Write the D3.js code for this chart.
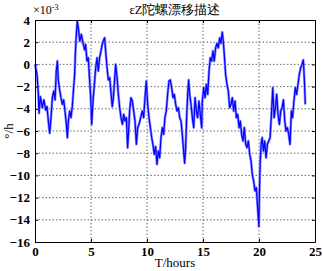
<!DOCTYPE html>
<html>
<head>
<meta charset="utf-8">
<script src="https://cdn.jsdelivr.net/npm/d3@7"></script>
<style>
  body { margin: 0; background: #fff; }
  text { font-family: "Liberation Serif", "Times New Roman", serif; }
</style>
</head>
<body>
<div id="chart"></div>
<script>
// gyro drift, values in units of 1e-3 deg/h
const hours = [
  0, 0.18, 0.3, 0.36, 0.48, 0.65, 0.8, 0.95, 1.07, 1.19, 1.31, 1.43, 1.55, 1.67, 1.79, 1.9,
  2.0, 2.08, 2.2, 2.32, 2.44, 2.56, 2.68, 2.8, 2.89, 2.98, 3.1, 3.21, 3.33, 3.45, 3.54, 3.6,
  3.69, 3.78, 3.9, 4.0, 4.14, 4.29, 4.43, 4.52, 4.64, 4.76, 4.88, 4.97, 5.06, 5.18, 5.3, 5.42,
  5.54, 5.65, 5.77, 5.89, 6.0, 6.13, 6.22, 6.31, 6.43, 6.55, 6.67, 6.79, 6.9, 7.0, 7.1, 7.2,
  7.32, 7.44, 7.56, 7.68, 7.8, 7.92, 8.04, 8.16, 8.27, 8.36, 8.45, 8.57, 8.69, 8.81, 8.93, 9.05,
  9.17, 9.29, 9.43, 9.58, 9.7, 9.82, 9.94, 10.06, 10.18, 10.3, 10.42, 10.53, 10.65, 10.77, 10.89, 11.01,
  11.13, 11.25, 11.37, 11.49, 11.6, 11.72, 11.84, 11.96, 12.08, 12.2, 12.32, 12.44, 12.56, 12.68, 12.8, 12.92,
  13.04, 13.15, 13.27, 13.36, 13.45, 13.54, 13.63, 13.72, 13.81, 13.93, 14.05, 14.17, 14.29, 14.41, 14.52, 14.64,
  14.76, 14.88, 14.94, 15.06, 15.18, 15.3, 15.42, 15.54, 15.65, 15.77, 15.89, 16.0, 16.13, 16.25, 16.37, 16.49,
  16.6, 16.72, 16.81, 16.9, 17.02, 17.14, 17.26, 17.38, 17.5, 17.62, 17.74, 17.86, 17.98, 18.1, 18.22, 18.33,
  18.45, 18.57, 18.69, 18.81, 18.93, 19.05, 19.17, 19.29, 19.4, 19.52, 19.64, 19.76, 19.82, 19.9, 19.99, 20.04,
  20.1, 20.19, 20.28, 20.4, 20.51, 20.63, 20.75, 20.87, 20.99, 21.11, 21.23, 21.35, 21.47, 21.58, 21.7, 21.82,
  21.94, 22.06, 22.18, 22.3, 22.41, 22.53, 22.65, 22.77, 22.89, 23.0, 23.12, 23.24, 23.36, 23.48, 23.6, 23.72,
  23.84, 23.96, 24.07, 24.13
];
const drift = [
  0, -0.9, -2.7, -4.4, -2.9, -3.9, -3.2, -4.1, -3.8, -5.1, -6.2, -4.8, -3.0, -2.4, -3.2, -0.6,
  0.3, -1.4, -2.3, -3.0, -3.6, -3.2, -4.2, -5.4, -6.6, -5.1, -4.2, -4.8, -3.8, -2.1, -0.9, 0.9,
  2.7, 3.9, 3.0, 2.1, 2.7, 1.9, 1.3, 1.8, 0.3, 0.6, -1.5, -2.9, -5.4, -3.3, -1.8, -0.3,
  0.6, -0.6, 0.6, 1.2, 1.8, 2.2, 2.4, 1.2, -0.3, -1.4, -1.2, -2.6, -3.8, -3.0, -1.5, 0.0,
  -1.1, -2.7, -3.9, -4.8, -5.4, -4.5, -5.1, -4.8, -7.5, -6.0, -4.2, -3.0, -3.3, -4.2, -5.1, -7.2,
  -5.7, -5.4, -4.8, -4.2, -4.8, -3.0, -1.5, -3.6, -4.8, -5.7, -6.6, -7.2, -8.1, -7.4, -9.0, -7.8,
  -8.4, -6.6, -5.7, -6.3, -4.8, -4.2, -2.7, -1.5, -1.4, -2.1, -3.0, -2.7, -3.6, -4.2, -3.9, -4.8,
  -5.1, -6.3, -7.8, -8.9, -7.5, -4.8, -2.7, -1.4, -2.7, -3.6, -4.8, -5.7, -3.0, -4.2, -4.8, -3.3,
  -4.5, -5.7, -3.3, -2.1, -3.0, -1.8, -2.7, -0.6, 0.6, 0.3, 1.2, 0.3, 1.5, 1.9, 1.5, 2.4,
  1.9, 2.9, 2.1, 0.9, -0.9, -1.8, -2.4, -3.9, -3.6, -3.0, -4.2, -3.3, -4.8, -4.5, -5.7, -5.1,
  -6.3, -6.9, -5.7, -7.2, -7.5, -6.9, -8.1, -8.7, -9.9, -10.5, -11.4, -11.1, -12.0, -13.2, -14.6, -11.4,
  -9.0, -7.2, -6.6, -7.8, -6.9, -8.4, -7.2, -6.9, -6.6, -4.5, -2.1, -4.8, -3.9, -2.7, -4.5, -5.4,
  -4.2, -3.9, -3.2, -5.1, -6.0, -5.7, -6.3, -7.2, -4.2, -4.8, -3.3, -2.1, -2.7, -1.8, -0.9, -0.3,
  0.0, 0.4, -1.8, -3.6
];
const xTicks = [0, 5, 10, 15, 20, 25];
const yTicks = [4, 2, 0, -2, -4, -6, -8, -10, -12, -14, -16];

const margin = { top: 20, right: 8, bottom: 29, left: 35 };
const width = 323 - margin.left - margin.right;
const height = 271 - margin.top - margin.bottom;

const svgRoot = d3.select('#chart')
  .append('svg')
  .attr('width', 323)
  .attr('height', 271);

const svg = svgRoot.append('g')
  .attr('transform', `translate(${margin.left},${margin.top})`);

const x = d3.scaleLinear().domain([0, 25]).range([0, width]);
const y = d3.scaleLinear().domain([-16, 4]).range([height, 0]);

// grid
svg.append('g')
  .selectAll('line')
  .data(xTicks.slice(1, -1))
  .join('line')
  .attr('x1', d => x(d)).attr('x2', d => x(d))
  .attr('y1', 0).attr('y2', height)
  .attr('stroke', '#444')
  .attr('stroke-width', 0.8)
  .attr('stroke-dasharray', '1.5,2');

svg.append('g')
  .selectAll('line')
  .data(yTicks.slice(1, -1))
  .join('line')
  .attr('x1', 0).attr('x2', width)
  .attr('y1', d => y(d)).attr('y2', d => y(d))
  .attr('stroke', '#444')
  .attr('stroke-width', 0.8)
  .attr('stroke-dasharray', '1.5,2');

// data line, light halo under it to get the noisy band look
const line = d3.line()
  .x((d, i) => x(hours[i]))
  .y(d => y(d));

svg.append('path')
  .datum(drift)
  .attr('fill', 'none')
  .attr('stroke', '#8c8cff')
  .attr('stroke-width', 2.6)
  .attr('stroke-linejoin', 'round')
  .attr('d', line);

svg.append('path')
  .datum(drift)
  .attr('fill', 'none')
  .attr('stroke', '#0000ff')
  .attr('stroke-width', 1.2)
  .attr('stroke-linejoin', 'round')
  .attr('d', line);

// axes (MATLAB style, ticks inward)
const axisStyle = g => {
  g.select('.domain').attr('stroke', '#000');
  g.selectAll('.tick line').attr('stroke', '#000');
  g.selectAll('text')
    .attr('font-size', 13)
    .attr('font-weight', 'bold')
    .attr('fill', '#000')
    .attr('font-family', '"Liberation Serif", serif');
};

svg.append('g')
  .attr('transform', `translate(0,${height})`)
  .call(d3.axisBottom(x).tickValues(xTicks).tickSize(-3).tickPadding(5).tickSizeOuter(0))
  .call(axisStyle);

svg.append('g')
  .call(d3.axisLeft(y).tickValues(yTicks).tickSize(-3).tickPadding(5).tickSizeOuter(0))
  .call(axisStyle);

svg.append('g')
  .call(d3.axisTop(x).tickValues(xTicks).tickSize(-3).tickFormat('').tickSizeOuter(0))
  .call(axisStyle);

svg.append('g')
  .attr('transform', `translate(${width},0)`)
  .call(d3.axisRight(y).tickValues(yTicks).tickSize(-3).tickFormat('').tickSizeOuter(0))
  .call(axisStyle);

// exponent label
const expo = svgRoot.append('text')
  .attr('x', 33)
  .attr('y', 14)
  .attr('font-size', 12)
  .attr('fill', '#000');
expo.append('tspan').text('×10');
expo.append('tspan').attr('dy', -4).attr('font-size', 8).text('-3');

// title
svgRoot.append('text')
  .attr('x', margin.left + width / 2)
  .attr('y', 14)
  .attr('text-anchor', 'middle')
  .attr('font-size', 12.5)
  .attr('fill', '#000')
  .attr('font-family', '"Liberation Serif", "Noto Sans CJK SC", serif')
  .text('εZ陀螺漂移描述');

// axis labels
svgRoot.append('text')
  .attr('x', margin.left + width / 2)
  .attr('y', 267)
  .attr('text-anchor', 'middle')
  .attr('font-size', 13)
  .attr('fill', '#000')
  .text('T/hours');

svgRoot.append('text')
  .attr('transform', `translate(13,${margin.top + height / 2}) rotate(-90)`)
  .attr('text-anchor', 'middle')
  .attr('font-size', 13)
  .attr('fill', '#000')
  .text('°/h');
</script>
</body>
</html>
